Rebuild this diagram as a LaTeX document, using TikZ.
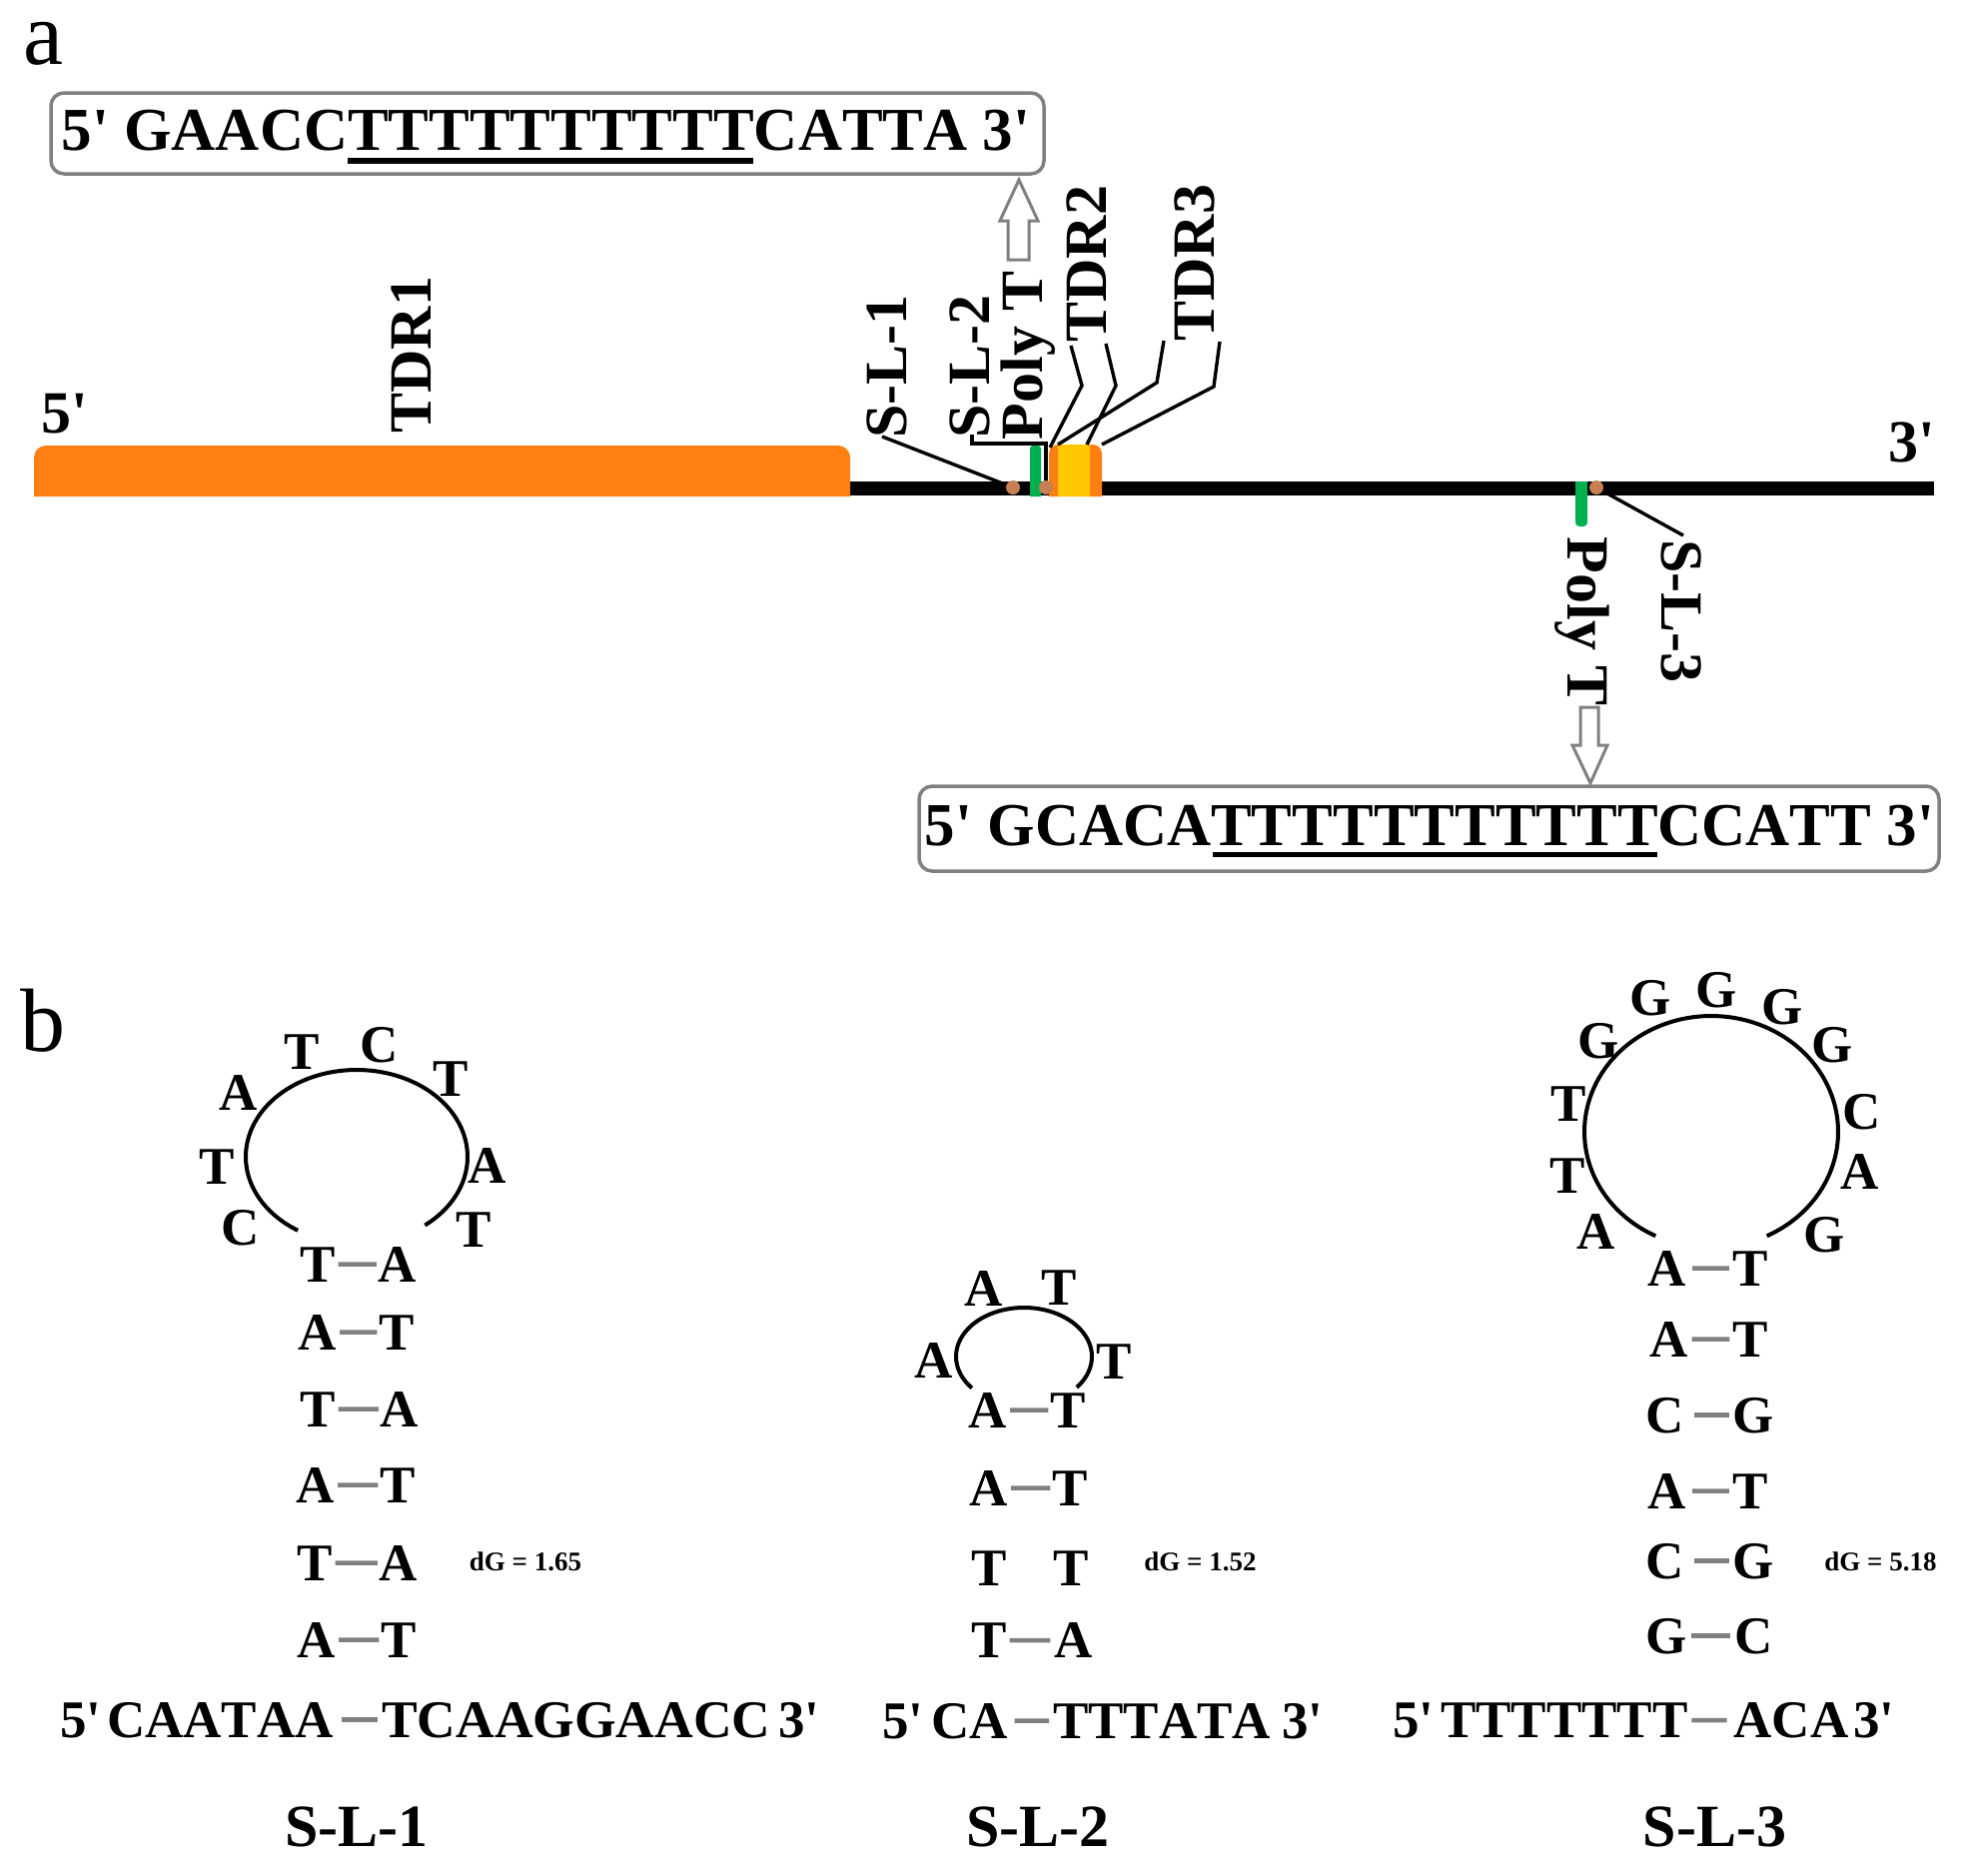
\documentclass[tikz,border=0pt]{standalone}
\usepackage{fontspec}
\usepackage{graphicx}
\newfontfamily\tmr[Kerning=Off]{Liberation Serif}
\definecolor{bandorange}{HTML}{FF7F13}
\definecolor{bandyellow}{HTML}{FFC800}
\definecolor{bandgreen}{HTML}{00B050}
\definecolor{dotbrown}{HTML}{C97F56}
\definecolor{framegray}{HTML}{808080}
\tikzset{
  every node/.style={inner sep=0pt,outer sep=0pt},
  nt/.style={font=\tmr\bfseries\fontsize{53}{60}\selectfont,anchor=base},
  ntw/.style={font=\tmr\bfseries\fontsize{53}{60}\selectfont,anchor=base west},
  seqt/.style={font=\tmr\bfseries\fontsize{61}{70}\selectfont,anchor=base},
  labt/.style={font=\tmr\bfseries\fontsize{60}{70}\selectfont,anchor=base},
  namet/.style={font=\tmr\bfseries\fontsize{60}{70}\selectfont,anchor=base},
  dgt/.style={font=\tmr\bfseries\fontsize{27}{30}\selectfont,anchor=base},
  panelt/.style={font=\tmr\fontsize{90}{100}\selectfont,anchor=base},
  seqbox/.style={draw=framegray,line width=3.5pt,rounded corners=13pt},
  bigarrow/.style={draw=framegray,fill=white,line width=3pt,line join=miter},
  leader/.style={draw=black,line width=3.4pt},
  loopline/.style={draw=black,line width=4pt,line cap=butt},
  bond/.style={draw=framegray,line width=4.5pt},
  ubar/.style={fill=black},
  sitedot/.style={circle,fill=dotbrown,minimum size=14pt}
}
\newcommand\ntx[4]{\node[nt] (#1) at (#2,#3) {#4};}
\newcommand\bpair[8]{%
  \node[nt] (#1L) at (#3,#6) {#2};
  \node[nt] (#1R) at (#5,#6) {#4};
  \draw[bond,shorten <=#7pt,shorten >=#8pt] (#1L.east) -- (#1R.west);}
\begin{document}
\begin{tikzpicture}[x=1pt,y=-1pt]
\useasboundingbox (0,0) rectangle (1970,1877);
\fill[white] (0,0) rectangle (1970,1877);

% panel labels
\node[panelt] (pa) at (43,64) {a};
\node[panelt] (pb) at (43,1052) {b};

% genome bar
\fill[black] (851,482) rectangle (1936,496);
\fill[bandorange,rounded corners=12pt] (34,497) -- (34,446) -- (851,446) -- (851,497);
\fill[bandorange,rounded corners=9pt] (1050,497) -- (1050,445) -- (1103,445) -- (1103,497);
\fill[bandyellow] (1059,445) rectangle (1091,497);
\fill[bandgreen,rounded corners=3pt] (1031,497) -- (1031,446) -- (1042,446) -- (1042,497);
\fill[bandgreen,rounded corners=4pt] (1577,482) -- (1577,527) -- (1589,527) -- (1589,482);

% labels on the bar
\node[labt] (five) at (65,433) {5'};
\node[labt] (three) at (1914,462) {3'};
\node[labt,rotate=90] (tdr1) at (431.5,355) {TDR1};
\node[labt,rotate=90] (sl1) at (907,367) {S-L-1};
\node[labt,rotate=90] (sl2) at (990,367) {S-L-2};
\node[labt,rotate=90] (polya) at (1043,356) {Poly T};
\node[labt,rotate=90] (tdr2) at (1107,264) {TDR2};
\node[labt,rotate=90] (tdr3) at (1215,263) {TDR3};
\node[labt,rotate=-90] (polyb) at (1569,622) {Poly T};
\node[labt,rotate=-90] (sl3) at (1663,612) {S-L-3};

% leaders
\coordinate (d1) at (1014,488);
\coordinate (d2) at (1047,488);
\coordinate (d3) at (1598,488);
\coordinate (c1) at (883,437);
\coordinate (c2a) at (973,435);
\coordinate (c2b) at (973,444);
\coordinate (c2c) at (1047,444);
\coordinate (c3) at (1685,536);
\coordinate (e1a) at (1072,346);
\coordinate (e1b) at (1083,386);
\coordinate (e1c) at (1051,448);
\coordinate (e2a) at (1107,344);
\coordinate (e2b) at (1117,386);
\coordinate (e2c) at (1088,445);
\coordinate (e3a) at (1165,341);
\coordinate (e3b) at (1158,383);
\coordinate (e3c) at (1059,445);
\coordinate (e4a) at (1221,342);
\coordinate (e4b) at (1215,387);
\coordinate (e4c) at (1103,445);
\draw[leader] (c1) -- (d1);
\draw[leader] (c2a) -- (c2b) -- (c2c) -- (d2);
\draw[leader] (d3) -- (c3);
\draw[leader] (e1a) -- (e1b) -- (e1c);
\draw[leader] (e2a) -- (e2b) -- (e2c);
\draw[leader] (e3a) -- (e3b) -- (e3c);
\draw[leader] (e4a) -- (e4b) -- (e4c);
\node[sitedot] (dot1) at (d1) {};
\node[sitedot] (dot2) at (d2) {};
\node[sitedot] (dot3) at (d3) {};

% sequence boxes
\node[seqbox,minimum width=994pt,minimum height=81pt] (box1) at (548,133.5) {};
\node[seqt] (seq1) at (546.5,150) {5' GAACCTTTTTTTTTTCATTA 3'};
\fill[ubar] (348,158) rectangle (754,164);
\node[seqbox,minimum width=1021pt,minimum height=85pt] (box2) at (1430.5,829.5) {};
\node[seqt] (seq2) at (1431,846) {5' GCACATTTTTTTTTTTCCATT 3'};
\fill[ubar] (1214,853) rectangle (1659,858);

% block arrows
\draw[bigarrow] (1020,180) -- (1039,221) -- (1030,221) -- (1030,260) -- (1009,260) -- (1009,221) -- (1001,221) -- cycle;
\draw[bigarrow] (1592,784) -- (1609,746) -- (1600,746) -- (1600,708) -- (1582,708) -- (1582,746) -- (1574,746) -- cycle;

% ---- S-L-1
\draw[loopline] plot[domain=122:412,samples=70,smooth] ({357+111*cos(\x)},{1158+87*sin(\x)});
\ntx{a1}{302}{1070}{T}\ntx{a2}{380}{1063}{C}\ntx{a3}{451}{1097}{T}\ntx{a4}{239}{1111}{A}
\ntx{a5}{217}{1185}{T}\ntx{a6}{488}{1184}{A}\ntx{a7}{241}{1246}{C}\ntx{a8}{474}{1248}{T}
\bpair{ar1}{T}{318}{A}{398}{1283}{3}{2}
\bpair{ar2}{A}{318}{T}{397}{1351}{3}{2}
\bpair{ar3}{T}{318}{A}{400}{1428}{3}{2}
\bpair{ar4}{A}{316}{T}{398}{1504}{3}{2}
\bpair{ar5}{T}{315}{A}{399}{1582}{3}{2}
\bpair{ar6}{A}{317}{T}{399}{1659}{3}{2}
\node[ntw] (af) at (60,1739) {5'};
\node[ntw] (al) at (107,1739) {CAATAA};
\node[ntw] (ar) at (382,1739) {\scalebox{1.01}[1]{TCAAGGAACC}};
\node[ntw] (at) at (779,1739) {3'};
\draw[bond,shorten <=8pt,shorten >=4pt] (al.east) -- (ar.west);
\node[namet] (an) at (357,1848) {S-L-1};
\node[dgt] (ag) at (526,1572) {dG = 1.65};

% ---- S-L-2
\draw[loopline] plot[domain=140:399,samples=60,smooth] ({1025+68*cos(\x)},{1358+49*sin(\x)});
\ntx{b1}{985}{1307}{A}\ntx{b2}{1060}{1306}{T}\ntx{b3}{935}{1379}{A}\ntx{b4}{1115.5}{1380}{T}
\bpair{br1}{A}{989}{T}{1069}{1429}{3}{2}
\bpair{br2}{A}{990}{T}{1071}{1507}{3}{2}
\ntx{br3L}{990}{1587}{T}\ntx{br3R}{1072}{1587}{T}
\bpair{br4}{T}{990}{A}{1074.5}{1659.5}{3}{4}
\node[ntw] (bf) at (883,1740) {5'};
\node[ntw] (bl) at (932,1740) {CA};
\node[ntw] (br) at (1054,1740) {TTTATA};
\node[ntw] (bt) at (1283,1740) {3'};
\draw[bond,shorten <=7pt,shorten >=4pt] (bl.east) -- (br.west);
\node[namet] (bn) at (1039,1848) {S-L-2};
\node[dgt] (bg) at (1201.5,1572) {dG = 1.52};

% ---- S-L-3
\draw[loopline] plot[domain=116:424,samples=80,smooth] ({1713+127*cos(\x)},{1133+116*sin(\x)});
\ntx{c1n}{1652}{1016}{G}\ntx{c2n}{1718}{1008}{G}\ntx{c3n}{1784}{1025.5}{G}\ntx{c4n}{1834}{1063.5}{G}
\ntx{c5n}{1864}{1130}{C}\ntx{c6n}{1862}{1190}{A}\ntx{c7n}{1826.5}{1253.5}{G}\ntx{c8n}{1600}{1059}{G}
\ntx{c9n}{1570}{1122.5}{T}\ntx{c10n}{1569}{1194}{T}\ntx{c11n}{1597.5}{1250.5}{A}
\bpair{cr1}{A}{1669}{T}{1752.5}{1287}{6}{4}
\bpair{cr2}{A}{1670.5}{T}{1752}{1358}{4}{3}
\bpair{cr3}{C}{1667}{G}{1755.5}{1434}{10}{4}
\bpair{cr4}{A}{1669}{T}{1752.5}{1510}{6}{4}
\bpair{cr5}{C}{1667}{G}{1755.5}{1580}{10}{4}
\bpair{cr6}{G}{1668}{C}{1756}{1655}{4}{5}
\node[ntw] (cf) at (1394,1739.5) {5'};
\node[ntw] (cl) at (1442,1739.5) {TTTTTTT};
\node[ntw] (cr) at (1735.5,1739.5) {ACA};
\node[ntw] (ct) at (1855,1739.5) {3'};
\draw[bond,shorten <=4pt,shorten >=7pt] (cl.east) -- (cr.west);
\node[namet] (cname) at (1716.5,1848) {S-L-3};
\node[dgt] (cg) at (1882.5,1572) {dG = 5.18};
\end{tikzpicture}
\end{document}
